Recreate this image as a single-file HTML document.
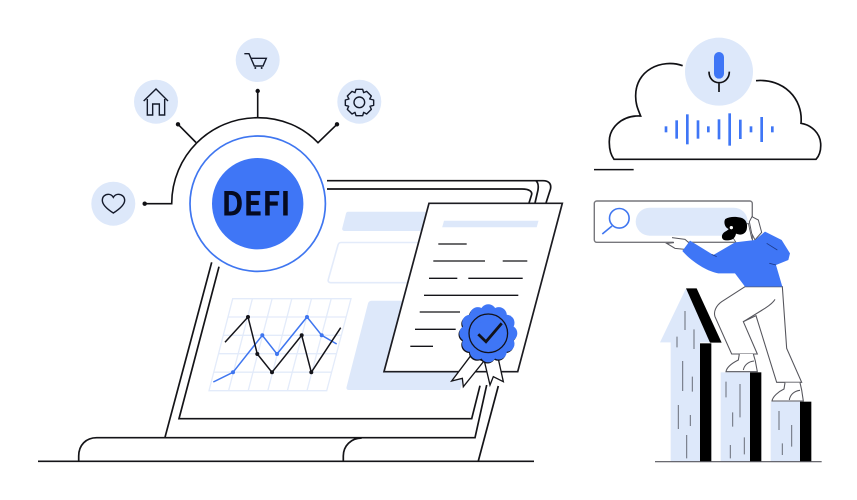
<!DOCTYPE html>
<html><head><meta charset="utf-8"><style>
html,body{margin:0;padding:0;background:#fff;width:857px;height:500px;overflow:hidden}
svg{display:block}
</style></head><body>
<svg width="857" height="500" viewBox="0 0 857 500" xmlns="http://www.w3.org/2000/svg" fill="none" stroke-linecap="butt" stroke-linejoin="miter">
<rect width="857" height="500" fill="#fff"/>

<!-- laptop -->
<g stroke="#141418" stroke-width="1.7">
<path d="M38 461.3H534"/>
<path d="M78.7 461V456C78.7 445 86 437.7 96.7 437.7H475L486.7 385"/>
<path d="M343.3 461V456C343.3 446 351 438 361.7 438"/>
<path d="M478.3 461L498.3 386"/>
<path d="M211.7 262.3L165 437.3"/>
<path d="M219 266.7L179 418.7H471.7L480 385.7"/>
<path d="M327 189H522C530 189 532.5 192 531.5 195L529 203"/>
<path d="M327 180.7H543C549 180.7 551.5 184 550.5 189L546 203"/>
<path d="M536 180.7C538.5 183 538.5 187 538 190L535 203"/>
</g>

<!-- screen panels -->
<path d="M348 211.7H440V231H345C342.5 231 341.8 229.5 342.3 228L346 213.5C346.3 212.3 347 211.7 348 211.7Z" fill="#dde8fa"/>
<path d="M341 242.5H425L412 282.7H331C328.5 282.7 327.8 281 328.3 279.5L338 245C338.5 243.3 339.5 242.5 341 242.5Z" fill="#fff" stroke="#e3ebfa" stroke-width="1.6"/>
<path d="M372 300.7H420L395 390H349C346.8 390 346 388.5 346.7 386.5L368 303.5C368.6 301.5 370 300.7 372 300.7Z" fill="#dde8fa"/>
<path d="M400 330L382 390H460L480 330Z" fill="#dde8fa"/>

<!-- chart grid -->
<g stroke="#e3ebfa" stroke-width="1.3">
<path d="M232.7 298.7H351L326.7 390.7H209Z"/>
<path d="M228 317H346M223.3 335.3H341.6M218.6 353.7H336.7M213.8 372.2H331.7"/>
<path d="M252.4 298.7L228.6 390.7M272.1 298.7L248.2 390.7M291.8 298.7L267.8 390.7M311.5 298.7L287.4 390.7M331.2 298.7L307 390.7"/>
</g>
<path d="M213.3 382L233 372.3L262.3 335.3L277 354L307 317L321.7 335.3L336.7 344" stroke="#3f76f0" stroke-width="1.5"/>
<g fill="#3f76f0"><circle cx="233" cy="372.3" r="2"/><circle cx="262.3" cy="335.3" r="2"/><circle cx="277" cy="354" r="2"/><circle cx="307" cy="317" r="2"/><circle cx="321.7" cy="335.3" r="2"/></g>
<path d="M225 342.3L248 317L257.3 354L272 372.3L301.7 335.3L311.3 372.3L340.7 327.7" stroke="#14141a" stroke-width="1.5"/>
<g fill="#14141a"><circle cx="248" cy="317" r="2"/><circle cx="257.3" cy="354" r="2"/><circle cx="272" cy="372.3" r="2"/><circle cx="301.7" cy="335.3" r="2"/><circle cx="311.3" cy="372.3" r="2"/></g>

<!-- document -->
<path d="M429 203.3H562.3L517.7 371.7H384Z" fill="#fff" stroke="#1c1c22" stroke-width="1.7"/>
<path d="M444 220.7H538.5L536.7 227.3H442.2Z" fill="#dde8fa"/>
<path d="M438.3 244H466.7M433.3 261H485M502.7 261H527.3M429 278.3H457.3M468.3 278.3H522.7M424 295.3H518.3M419.7 312H460M415 329.3H455.7M410.3 346.3H433" stroke="#141418" stroke-width="1.3"/>

<!-- ribbons & seal -->
<g transform="translate(330,175) scale(.33333)">
<path d="M420 545L365 618L397 610L400 635L462 558Z" fill="#fff" stroke="#141418" stroke-width="4"/>
<path d="M463 558L480 630L490 605L520 620L503 543Z" fill="#fff" stroke="#141418" stroke-width="4"/>
</g>
<g fill="#12121a" transform="translate(-.8,1.2)">
<circle cx="488.3" cy="333.3" r="25"/>
<circle cx="509.3" cy="333.3" r="8"/><circle cx="506.5" cy="343.8" r="8"/><circle cx="498.8" cy="351.5" r="8"/><circle cx="488.3" cy="354.3" r="8"/><circle cx="477.8" cy="351.5" r="8"/><circle cx="470.1" cy="343.8" r="8"/><circle cx="467.3" cy="333.3" r="8"/><circle cx="470.1" cy="322.8" r="8"/><circle cx="477.8" cy="315.1" r="8"/><circle cx="488.3" cy="312.3" r="8"/><circle cx="498.8" cy="315.1" r="8"/><circle cx="506.5" cy="322.8" r="8"/>
</g>
<g fill="#3f76f6">
<circle cx="488.3" cy="333.3" r="25"/>
<circle cx="509.3" cy="333.3" r="8"/><circle cx="506.5" cy="343.8" r="8"/><circle cx="498.8" cy="351.5" r="8"/><circle cx="488.3" cy="354.3" r="8"/><circle cx="477.8" cy="351.5" r="8"/><circle cx="470.1" cy="343.8" r="8"/><circle cx="467.3" cy="333.3" r="8"/><circle cx="470.1" cy="322.8" r="8"/><circle cx="477.8" cy="315.1" r="8"/><circle cx="488.3" cy="312.3" r="8"/><circle cx="498.8" cy="315.1" r="8"/><circle cx="506.5" cy="322.8" r="8"/>
</g>
<circle cx="488.3" cy="333.3" r="19.3" stroke="#12121a" stroke-width="1.3"/>
<path d="M478.3 334.3L486 341.7L501.7 323.3" stroke="#12121a" stroke-width="2.8"/>

<!-- hub -->
<g stroke="#101014" stroke-width="1.6">
<path d="M144.7 203.7H171.7C171.7 156 210 117.7 257.7 117.7C282 117.7 303 127 318 142.7L337 124.3"/>
<path d="M196 142.5L178 124.3M257.7 117.7V91"/>
</g>
<g fill="#101014"><circle cx="144.7" cy="203.7" r="2.2"/><circle cx="178" cy="124.3" r="2.2"/><circle cx="257.7" cy="91" r="2.2"/><circle cx="337" cy="124.3" r="2.2"/></g>
<g fill="#dde8fa"><circle cx="113.3" cy="203.7" r="22"/><circle cx="156" cy="101.7" r="22"/><circle cx="257.7" cy="60" r="22"/><circle cx="359.3" cy="101.7" r="22"/></g>
<circle cx="257.7" cy="203.7" r="67.7" fill="#fff" stroke="#3f76f0" stroke-width="1.7"/>
<circle cx="257.7" cy="203.7" r="45.7" fill="#3f76f6"/>
<text x="221.5" y="215.7" font-family="&quot;Noto Sans CJK JP&quot;,&quot;Liberation Sans&quot;,sans-serif" font-weight="700" font-size="33" fill="#050a20" textLength="69" lengthAdjust="spacingAndGlyphs">DEFI</text>

<!-- icons -->
<g transform="translate(80,30) scale(.33333)" stroke="#141a2b" stroke-width="4.2">
<path d="M100 549C86 540 67 526 67 511C67 499 76 493 85 493C91 493 97 497 100 502C103 497 109 493 115 493C125 493 134 500 134 511C134 526 114 540 100 549Z"/>
<path d="M191 213L228 177L264 213M202 207V255H218V222H238V255H254V207"/>
<path d="M493 71H507L523 108H549L559 85H512"/>
<g fill="#141a2b" stroke="none"><circle cx="526" cy="114" r="3"/><circle cx="545" cy="114" r="3"/></g>
<circle cx="838" cy="217" r="16"/>
<path d="M828 178H848L851 188L860 184L874 198L869 207L881 210V226L870 229L874 238L860 252L851 247L848 257H828L825 247L816 252L802 238L806 229L796 226V210L807 207L802 198L816 184L825 188Z" stroke-linejoin="round"/>
</g>

<!-- cloud -->
<g transform="translate(590,30) scale(.33333)">
<path d="M278 107C215 85 135 120 137 200C137 225 145 240 152 258C95 255 55 295 58 340C58 360 63 375 72 388H678C690 375 693 355 692 340C690 310 665 285 633 280C640 205 580 145 498 152" stroke="#101014" stroke-width="5"/>
<circle cx="387" cy="125" r="102" fill="#dde8fa"/>
<rect x="372" y="66" width="30" height="80" rx="15" fill="#3f76f6"/>
<path d="M357 125C357 145 370 158 387 158C404 158 418 145 418 125M387 158V186" stroke="#101014" stroke-width="5"/>
<g fill="#3f76f6">
<rect x="224" y="289" width="8" height="18"/><rect x="256" y="271" width="8" height="55"/><rect x="288" y="253" width="8" height="90"/><rect x="320" y="271" width="8" height="55"/><rect x="351" y="289" width="8" height="18"/><rect x="383" y="268" width="8" height="60"/><rect x="415" y="250" width="8" height="97"/><rect x="447" y="269" width="8" height="58"/><rect x="479" y="289" width="8" height="18"/><rect x="511" y="261" width="8" height="75"/><rect x="543" y="289" width="8" height="18"/>
</g>
<path d="M12 419H131" stroke="#101014" stroke-width="4.5"/>
</g>

<!-- search box -->
<rect x="594.3" y="201" width="158" height="41.3" rx="2.5" fill="#fff" stroke="#77777c" stroke-width="1.4"/>
<rect x="635.7" y="207.7" width="112" height="28" rx="14" fill="#dde8fa"/>
<circle cx="619.3" cy="218.3" r="9.8" stroke="#3f76f0" stroke-width="1.6"/>
<path d="M612 226L602.3 234" stroke="#3f76f0" stroke-width="1.6"/>

<!-- arrows/bars + person -->
<g transform="translate(650,205) scale(.33333)">
<path d="M108 250L30 412H62V770H150V412H190Z" fill="#dde8fa"/>
<path d="M108 250H140L215 413H180Z" fill="#000"/>
<rect x="150" y="415" width="34" height="355" fill="#000"/>
<rect x="212" y="502" width="88" height="268" fill="#dde8fa"/>
<rect x="300" y="502" width="34" height="268" fill="#000"/>
<rect x="362" y="590" width="88" height="180" fill="#dde8fa"/>
<rect x="450" y="590" width="34" height="180" fill="#000"/>
<path d="M15 770H515" stroke="#55555c" stroke-width="3.6"/>
<path d="M105 318V375M81 395V427M132 373V432M98 468V558M127 515V560M85 600V672M121 630V663M110 690V760M228 530V577M270 537V637M248 622V665M283 697V748M241 720V760M387 618V675M425 660V725M397 715V750" stroke="#6f7480" stroke-width="3.2"/>

<!-- pants -->
<path d="M285 245L215 290C198 302 190 320 195 335L245 447H322L280 350L318 332L380 532H455L410 430L397 245Z" fill="#fff" stroke="#55555c" stroke-width="3.2"/>
<path d="M280 350L345 310C360 300 370 292 375 283" stroke="#55555c" stroke-width="3.2"/>
<!-- shoes -->
<path d="M268 447L265 465C245 475 230 488 228 500H322L316 468L310 447" fill="#fff" stroke="#55555c" stroke-width="3.2"/>
<path d="M280 495C283 480 295 470 312 468" stroke="#55555c" stroke-width="3.2"/>
<path d="M405 533L402 552C385 560 368 575 366 588H460L455 555L450 533" fill="#fff" stroke="#55555c" stroke-width="3.2"/>
<path d="M418 585C420 570 432 558 450 556" stroke="#55555c" stroke-width="3.2"/>
<!-- hands -->
<path d="M66 98L105 103L122 118L105 133L75 130L50 115L72 113" fill="#fff" stroke="#55555c" stroke-width="3"/>
<path d="M306 35L325 45L335 82L315 105L305 85L298 50Z" fill="#fff" stroke="#55555c" stroke-width="3"/>
<!-- face -->
<path d="M250 75L295 55L305 100L310 110L260 115L250 100Z" fill="#fff" stroke="#55555c" stroke-width="2.5"/>
<!-- jacket -->
<path d="M97 138L120 107L190 150L255 112L315 105L345 80L395 105L420 145L415 165L378 180L397 245H285L255 205H205C175 200 130 175 97 138Z" fill="#3f76f6"/>
<path d="M185 148L200 155M350 115L382 135M358 175L378 180" stroke="#1c3a88" stroke-width="2.5"/>
<!-- hair -->
<path d="M226 42C240 34 258 35 272 38C288 42 294 56 290 74C286 88 272 92 258 86C256 98 248 107 232 106C218 108 212 97 218 87C222 80 232 78 236 72C224 68 220 50 226 42Z" fill="#000"/>
<circle cx="244" cy="68" r="5" fill="#fff"/>
</g>
</svg>
</body></html>
